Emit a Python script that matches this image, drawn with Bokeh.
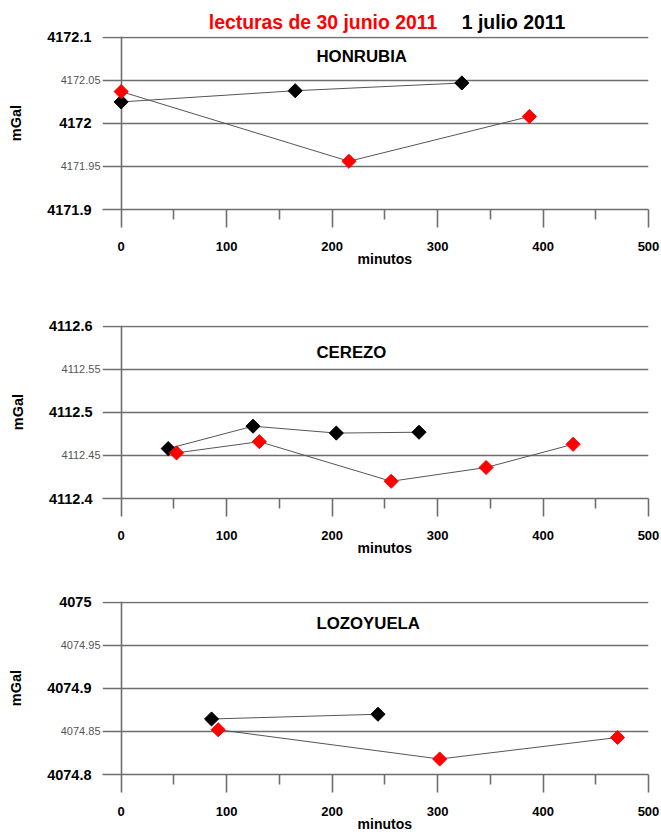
import math
from bokeh.plotting import figure
from bokeh.layouts import column
from bokeh.models import (FixedTicker, NumeralTickFormatter, PrintfTickFormatter,
                          Label, LinearAxis, Range1d)
from bokeh.embed import file_html
from bokeh.resources import INLINE

FONT = "Liberation Sans"

# ---------------- data ----------------
stations = ["HONRUBIA", "CEREZO", "LOZOYUELA"]
title_parts = ["lecturas de 30 junio 2011", "1 julio 2011"]
title_colors = ["#ff0000", "black"]
x_label = "minutos"
y_label = "mGal"

x_ticks = [0, 100, 200, 300, 400, 500]
x_minor = [50, 150, 250, 350, 450]

y_major = [[4171.9, 4172.0, 4172.1],
           [4112.4, 4112.5, 4112.6],
           [4074.8, 4074.9, 4075.0]]
y_minor = [[4171.95, 4172.05],
           [4112.45, 4112.55],
           [4074.85, 4074.95]]

# readings of 30 junio 2011 (red)
junio_x = [[0, 216, 387],
           [52.5, 131, 256, 346, 428.5],
           [92, 302, 470.6]]
junio_y = [[4172.037, 4171.956, 4172.008],
           [4112.453, 4112.466, 4112.420, 4112.436, 4112.463],
           [4074.852, 4074.818, 4074.843]]
# readings of 1 julio 2011 (black)
julio_x = [[0, 165, 323],
           [44.6, 125, 204, 282.4],
           [85.7, 243.5]]
julio_y = [[4172.025, 4172.038, 4172.047],
           [4112.458, 4112.484, 4112.476, 4112.477],
           [4074.8645, 4074.870]]

# ---------------- layout ----------------
TITLE_CENTER_PX = [322.5, 513]   # px from left (text centres)
TITLE_STANDOFFS = [4, -25]       # inner axis, outer axis (pulled back onto the same line)
FRAME_W, FRAME_H = 546, 173
LEFT, RIGHT = 102, 13
TOPS = [36, 56, 43]
BOTTOMS = [60, 60, 60]
X_START, X_END = -17.7, 500
Y_PAD = 0.001
STATION_PX_X = 316
STATION_MID = [20.2, 26.8, 22.2]    # px below frame top (text middle)
GRID = "#6e6e6e"
GW = 1.6
XPP = FRAME_W / (X_END - X_START)    # px per x unit


def px_to_x(px):
    return X_START + (px - LEFT) / XPP


def label_axis(tick, text, size, color, standoff):
    ax = LinearAxis(ticker=FixedTicker(ticks=[tick]),
                    formatter=PrintfTickFormatter(format=text))
    ax.axis_line_color = None
    ax.major_tick_line_color = None
    ax.minor_tick_line_color = None
    ax.major_tick_out = 0
    ax.major_tick_in = 0
    ax.major_label_standoff = standoff
    ax.major_label_text_font = FONT
    ax.major_label_text_font_size = size
    ax.major_label_text_font_style = "bold"
    ax.major_label_text_color = color
    return ax


figs = []
for i in range(3):
    ymin = y_major[i][0]
    ymax = y_major[i][-1]
    ypp = (ymax + Y_PAD - ymin) / FRAME_H
    p = figure(frame_width=FRAME_W, frame_height=FRAME_H,
               min_border_left=LEFT, min_border_right=RIGHT,
               min_border_top=TOPS[i], min_border_bottom=BOTTOMS[i],
               x_range=Range1d(X_START, X_END),
               y_range=Range1d(ymin, ymax + Y_PAD),
               output_backend="svg", toolbar_location=None,
               background_fill_color="white", border_fill_color="white")
    p.outline_line_color = None

    # grids
    p.xgrid.ticker = FixedTicker(ticks=[x_ticks[0]])
    p.xgrid.grid_line_color = GRID
    p.xgrid.grid_line_width = GW
    p.ygrid.ticker = FixedTicker(ticks=sorted(y_major[i] + y_minor[i]))
    p.ygrid.grid_line_color = GRID
    p.ygrid.grid_line_width = GW

    # x axis
    xa = p.xaxis[0]
    xa.ticker = FixedTicker(ticks=x_ticks, minor_ticks=x_minor)
    xa.axis_line_color = GRID
    xa.axis_line_width = GW
    xa.major_tick_line_color = GRID
    xa.major_tick_line_width = GW
    xa.minor_tick_line_color = GRID
    xa.minor_tick_line_width = GW
    xa.major_tick_out = 18
    xa.major_tick_in = 0
    xa.minor_tick_out = 10
    xa.minor_tick_in = 0
    xa.major_label_standoff = 14
    xa.major_label_text_font = FONT
    xa.major_label_text_font_size = "13px"
    xa.major_label_text_font_style = "bold"
    xa.major_label_text_color = "black"

    # x axis title: the single label of a second bottom axis at the middle of the scale
    mid = (x_ticks[0] + x_ticks[-1]) / 2
    p.add_layout(label_axis(mid, x_label, "14px", "black", -3), "below")

    # inner y axis: the minor (grey) labels
    ya = p.yaxis[0]
    ya.ticker = FixedTicker(ticks=y_minor[i])
    ya.formatter = NumeralTickFormatter(format="0.00")
    ya.axis_line_color = None
    ya.major_tick_line_color = None
    ya.minor_tick_line_color = None
    ya.major_tick_out = 0
    ya.major_tick_in = 0
    ya.major_label_standoff = 2
    ya.major_label_text_font = FONT
    ya.major_label_text_font_size = "11px"
    ya.major_label_text_font_style = "normal"
    ya.major_label_text_color = "#555555"

    # outer y axis: the main (bold) labels and the axis title
    yb = LinearAxis(ticker=FixedTicker(ticks=y_major[i]),
                    formatter=NumeralTickFormatter(format="0.[0]"))
    yb.axis_line_color = None
    yb.major_tick_line_color = None
    yb.minor_tick_line_color = None
    yb.major_tick_out = 0
    yb.major_tick_in = 0
    yb.major_label_standoff = -34
    yb.major_label_text_font = FONT
    yb.major_label_text_font_size = "14.5px"
    yb.major_label_text_font_style = "bold"
    yb.major_label_text_color = "black"
    yb.axis_label = y_label
    yb.axis_label_text_font = FONT
    yb.axis_label_text_font_size = "14.5px"
    yb.axis_label_text_font_style = "bold"
    yb.axis_label_text_color = "black"
    yb.axis_label_standoff = 20
    p.add_layout(yb, "left")

    # chart title (two colours, one line) above the first panel
    if i == 0:
        for k in range(2):
            p.add_layout(label_axis(px_to_x(TITLE_CENTER_PX[k]), title_parts[k], "19.4px",
                                    title_colors[k], TITLE_STANDOFFS[k]), "above")

    # series lines and markers
    p.line(julio_x[i], julio_y[i], line_color="#555555", line_width=1)
    p.line(junio_x[i], junio_y[i], line_color="#555555", line_width=1)
    p.scatter(julio_x[i], julio_y[i], marker="square", angle=math.pi / 4, size=10,
              fill_color="black", line_color="black")
    p.scatter(junio_x[i], junio_y[i], marker="square", angle=math.pi / 4, size=10,
              fill_color="#ff0000", line_color="#ff0000")

    # station name
    p.add_layout(Label(x=px_to_x(STATION_PX_X), y=ymax + Y_PAD - STATION_MID[i] * ypp,
                       text=stations[i], text_align="left", text_baseline="middle",
                       text_font=FONT, text_font_size="16.8px", text_font_style="bold",
                       text_color="black"))
    figs.append(p)

layout = column(*figs, spacing=0)
open("out.html", "w").write(file_html(layout, INLINE))
